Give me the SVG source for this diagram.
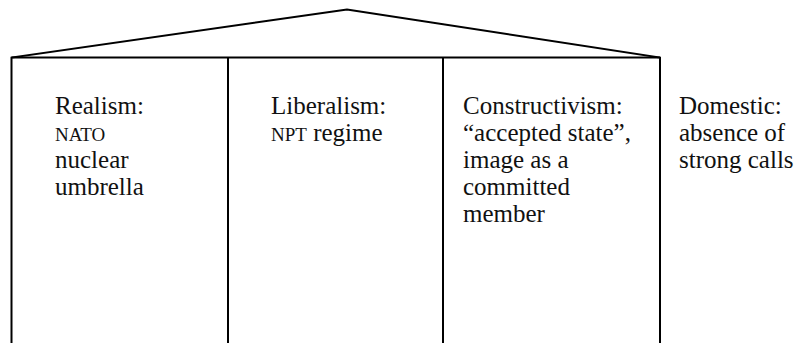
<svg xmlns="http://www.w3.org/2000/svg" width="796" height="343" viewBox="0 0 796 343">
<style>
.ln{stroke:#000;stroke-width:2;fill:none;stroke-linejoin:miter}
text{font-family:'Liberation Serif','DejaVu Serif',serif;font-size:25px;fill:#111}
.sc{font-size:19px}
</style>
<rect width="796" height="343" fill="#fff"/>
<g id="connectors">
<polyline class="ln" points="11.5,343 11.5,57.5 347,9.5 660,57.5 660,343"/>
<line class="ln" x1="11.5" y1="57.5" x2="660" y2="57.5"/>
<line class="ln" x1="228" y1="57.5" x2="228" y2="343"/>
<line class="ln" x1="443" y1="57.5" x2="443" y2="343"/>
</g>
<g id="realism" font-family="Liberation Serif, serif">
<text x="55" y="114">Realism:</text>
<text class="sc" x="55" y="141">NATO</text>
<text x="55" y="168">nuclear</text>
<text x="55" y="195">umbrella</text>
</g>
<g id="liberalism">
<text x="271" y="114">Liberalism:</text>
<text x="271" y="141"><tspan class="sc">NPT</tspan> regime</text>
</g>
<g id="constructivism">
<text x="463" y="114">Constructivism:</text>
<text x="463" y="141">“accepted state”,</text>
<text x="463" y="168">image as a</text>
<text x="463" y="195">committed</text>
<text x="463" y="222">member</text>
</g>
<g id="domestic">
<text x="679" y="114">Domestic:</text>
<text x="679" y="141">absence of</text>
<text x="679" y="168">strong calls</text>
</g>
</svg>
